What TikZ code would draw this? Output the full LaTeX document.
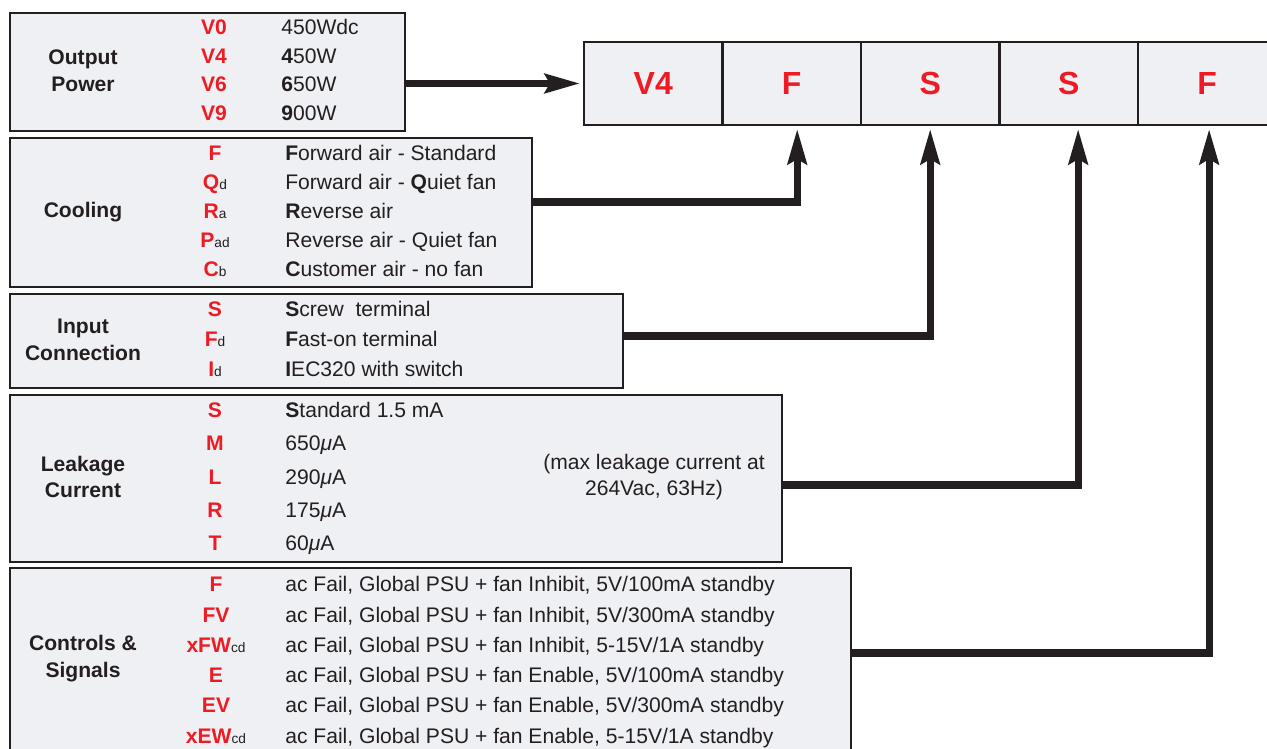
\documentclass[tikz,border=0pt]{standalone}
\usepackage{fontspec}
\setmainfont{Liberation Sans}
\usetikzlibrary{arrows.meta,fit}

\definecolor{codered}{HTML}{ED1C24}
\definecolor{panelfill}{HTML}{EFF0F4}
\definecolor{inkdark}{HTML}{231F20}

% small footnote letters after an option code
\newcommand\lowtag[1]{{\fontsize{7.8}{8}\selectfont\color{inkdark}\mdseries#1}}

\tikzset{
  panel/.style={draw=inkdark, line width=1.4pt, fill=panelfill, inner sep=0pt, outer sep=0pt},
  cell/.style={panel, minimum width=2.77cm, minimum height=1.66cm,
    font=\fontsize{18.2}{20}\selectfont\bfseries, text=codered},
  head/.style={font=\fontsize{12}{15.3}\selectfont\bfseries, text=inkdark, align=center},
  code/.style={font=\fontsize{12}{13}\selectfont\bfseries, text=codered, anchor=base, inner sep=0pt},
  desc/.style={font=\fontsize{12}{13}\selectfont, text=inkdark, anchor=base west, inner sep=0pt},
  note/.style={font=\fontsize{12}{15.3}\selectfont, text=inkdark, align=center},
  link/.style={draw=inkdark, line width=4pt, shorten >=0.08cm,
    -{Stealth[length=0.7cm,width=0.38cm,inset=0.1cm]}},
}

\begin{document}
\begin{tikzpicture}[x=0.02cm,y=-0.02cm]
    \useasboundingbox (0,0) rectangle (1267,749);

    % option panels
    \node[panel, fit={(10,13) (405,131)}] (power) {};
    \node[panel, fit={(10,138) (532,287)}] (cool) {};
    \node[panel, fit={(10,294) (623,388)}] (input) {};
    \node[panel, fit={(10,395) (782,562)}] (leak) {};
    \node[panel, fit={(10,568) (851,752)}] (ctrl) {};

    \node[head] (power-lbl) at (83,71) {Output\\Power};
    \node[head] (cool-lbl) at (83,212) {Cooling};
    \node[head] (input-lbl) at (83,340) {Input\\Connection};
    \node[head] (leak-lbl) at (83,477) {Leakage\\Current};
    \node[head] (ctrl-lbl) at (83,659) {Controls \&\\Signals};

    % output power
    \foreach \y/\c/\d [count=\i] in {35/V0/450Wdc, 64/V4/\textbf{4}50W,
        92/V6/\textbf{6}50W, 121/V9/\textbf{9}00W} {
      \node[code] (power-c\i) at (214,\y) {\c};
      \node[desc] (power-d\i) at (281,\y) {\d};
    }

    % cooling
    \foreach \y/\c/\d [count=\i] in {161/F/\textbf{F}orward air - Standard,
        190/Q\lowtag{d}/Forward air - \textbf{Q}uiet fan,
        219/R\lowtag{a}/\textbf{R}everse air,
        248/P\lowtag{ad}/Reverse air - Quiet fan,
        277/C\lowtag{b}/\textbf{C}ustomer air - no fan} {
      \node[code] (cool-c\i) at (215,\y) {\c};
      \node[desc] (cool-d\i) at (285,\y) {\d};
    }

    % input connection
    \foreach \y/\c/\d [count=\i] in {317/S/\textbf{S}crew\ \ terminal,
        347/F\lowtag{d}/\textbf{F}ast-on terminal,
        377/I\lowtag{d}/\textbf{I}EC320 with switch} {
      \node[code] (input-c\i) at (215,\y) {\c};
      \node[desc] (input-d\i) at (285,\y) {\d};
    }

    % leakage current
    \foreach \y/\c/\d [count=\i] in {418/S/\textbf{S}tandard 1.5 mA,
        451/M/650\textit{μ}A, 484/L/290\textit{μ}A,
        517/R/175\textit{μ}A, 550/T/60\textit{μ}A} {
      \node[code] (leak-c\i) at (215,\y) {\c};
      \node[desc] (leak-d\i) at (285,\y) {\d};
    }
    \node[note] (leak-note) at (654,477) {(max leakage current at\\264Vac, 63Hz)};

    % controls and signals
    \foreach \y/\c/\d [count=\i] in {
        591/F/{ac Fail, Global PSU + fan Inhibit, 5V/100mA standby},
        622/FV/{ac Fail, Global PSU + fan Inhibit, 5V/300mA standby},
        652/xFW\lowtag{cd}/{ac Fail, Global PSU + fan Inhibit, 5-15V/1A standby},
        682/E/{ac Fail, Global PSU + fan Enable, 5V/100mA standby},
        712/EV/{ac Fail, Global PSU + fan Enable, 5V/300mA standby},
        743/xEW\lowtag{cd}/{ac Fail, Global PSU + fan Enable, 5-15V/1A standby}} {
      \node[code] (ctrl-c\i) at (216,\y) {\c};
      \node[desc] (ctrl-d\i) at (285,\y) {\d};
    }

    % part number cells
    \node[cell, anchor=north west] (c1) at (584,42) {V4};
    \node[cell, anchor=west] (c2) at (c1.east) {F};
    \node[cell, anchor=west] (c3) at (c2.east) {S};
    \node[cell, anchor=west] (c4) at (c3.east) {S};
    \node[cell, anchor=west] (c5) at (c4.east) {F};

    % connectors
    \draw[link] (power.east |- c1.west) -- (c1.west);
    \draw[link] ([yshift=0.21cm]cool.east) -| ([xshift=0.11cm]c2.south);
    \draw[link] ([yshift=0.1cm]input.east) -| (c3.south);
    \draw[link] ([yshift=-0.13cm]leak.east) -| ([xshift=0.19cm]c4.south);
    \draw[link] ([yshift=0.14cm]ctrl.east) -| ([xshift=0.04cm]c5.south);
\end{tikzpicture}
\end{document}
